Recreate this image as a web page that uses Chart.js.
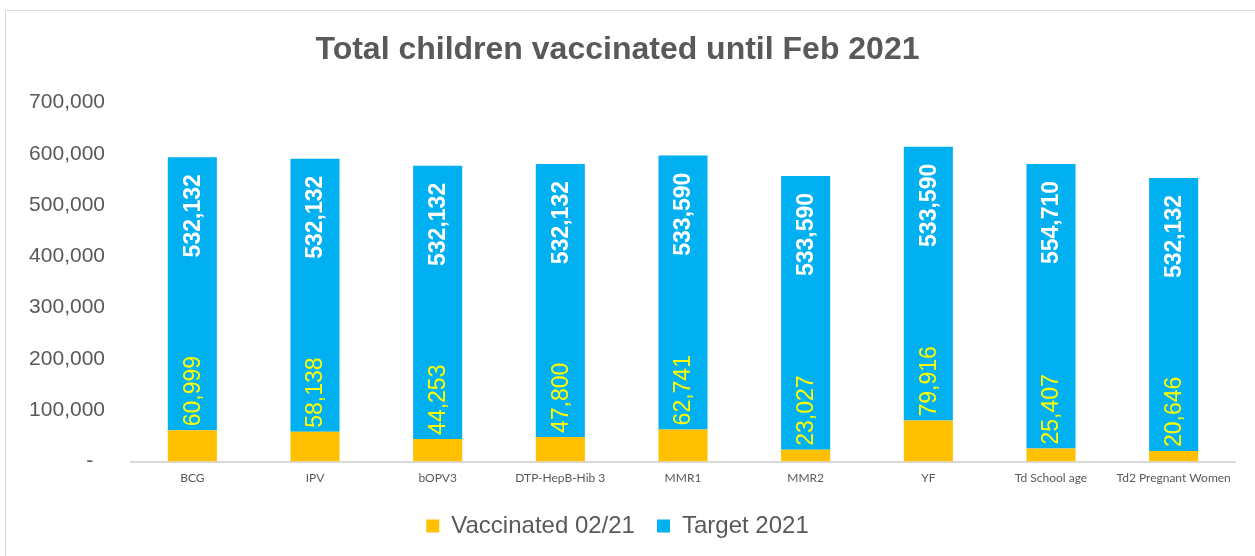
<!DOCTYPE html>
<html>
<head>
<meta charset="utf-8">
<script src="https://cdn.jsdelivr.net/npm/chart.js@4"></script>
<style>
    body { margin: 0; background: #fff; }
    .frame {
        position: absolute;
        left: 5px; top: 10px;
        width: 1260px; height: 560px;
        border: 1px solid #d9d9d9;
    }
    .wrap { position: absolute; left: 0; top: 0; width: 1255px; height: 556px; }
</style>
</head>
<body>
<div class="frame"></div>
<div class="wrap"><canvas id="vaccChart"></canvas></div>
<script>
// data
const categories = ['BCG', 'IPV', 'bOPV3', 'DTP-HepB-Hib 3', 'MMR1', 'MMR2', 'YF', 'Td School age', 'Td2 Pregnant Women'];
const vaccinated = [60999, 58138, 44253, 47800, 62741, 23027, 79916, 25407, 20646];
const target = [532132, 532132, 532132, 532132, 533590, 533590, 533590, 554710, 532132];
const yTicks = [0, 100000, 200000, 300000, 400000, 500000, 600000, 700000];

const fmt = v => v.toLocaleString('en-US');

// value labels, rotated like the Excel original
const barLabels = {
    id: 'barLabels',
    afterDatasetsDraw(chart) {
        const ctx = chart.ctx;
        const vBars = chart.getDatasetMeta(0).data;
        const tBars = chart.getDatasetMeta(1).data;
        ctx.save();
        ctx.textBaseline = 'middle';

        // Vaccinated: starts just above the orange bar
        ctx.font = '23px "Liberation Sans", Arial, sans-serif';
        ctx.fillStyle = '#FFFF00';
        ctx.textAlign = 'left';
        vBars.forEach((bar, i) => {
            ctx.save();
            ctx.translate(bar.x, bar.y - 4);
            ctx.rotate(-Math.PI / 2);
            ctx.fillText(fmt(vaccinated[i]), 0, 1);
            ctx.restore();
        });

        // Target: inside end of the blue bar
        ctx.font = 'bold 23px "Liberation Sans", Arial, sans-serif';
        ctx.fillStyle = '#FFFFFF';
        ctx.textAlign = 'right';
        tBars.forEach((bar, i) => {
            ctx.save();
            ctx.translate(bar.x, bar.y + 17);
            ctx.rotate(-Math.PI / 2);
            ctx.fillText(fmt(target[i]), 0, 1);
            ctx.restore();
        });
        ctx.restore();
    }
};

new Chart(document.getElementById('vaccChart'), {
    type: 'bar',
    data: {
        labels: categories,
        datasets: [{
            label: 'Vaccinated 02/21',
            data: vaccinated,
            backgroundColor: '#FFC000',
            categoryPercentage: 1,
            barPercentage: 0.4
        }, {
            label: 'Target 2021',
            data: target,
            backgroundColor: '#00B0F0',
            categoryPercentage: 1,
            barPercentage: 0.4
        }]
    },
    options: {
        responsive: true,
        maintainAspectRatio: false,
        animation: false,
        layout: { padding: { top: 20, right: 20, bottom: 8, left: 0 } },
        plugins: {
            title: {
                display: true,
                text: 'Total children vaccinated until Feb 2021',
                color: '#595959',
                font: { family: '"Liberation Sans", Arial, sans-serif', size: 32, weight: 'bold' },
                padding: { top: 11, bottom: 33 }
            },
            legend: {
                position: 'bottom',
                labels: {
                    color: '#595959',
                    font: { family: '"Liberation Sans", Arial, sans-serif', size: 24 },
                    boxWidth: 13,
                    boxHeight: 13,
                    padding: 22
                }
            },
            tooltip: { enabled: false }
        },
        scales: {
            x: {
                stacked: true,
                grid: { display: false },
                border: { display: true, color: '#D9D9D9', width: 2 },
                afterFit(axis) { axis.height += 6; },
                ticks: {
                    color: '#595959',
                    font: { family: 'Lato, "Open Sans", sans-serif', size: 12 },
                    maxRotation: 0,
                    autoSkip: false,
                    padding: 1
                }
            },
            y: {
                stacked: true,
                min: 0,
                max: 700000,
                grid: { display: false },
                border: { display: false },
                afterBuildTicks(axis) {
                    axis.ticks = yTicks.map(v => ({ value: v }));
                },
                afterFit(axis) { axis.width = 131; },
                ticks: {
                    color: '#595959',
                    font: { family: '"Liberation Sans", Arial, sans-serif', size: 21 },
                    padding: 18,
                    callback: v => v === 0 ? '-  ' : fmt(v)
                }
            }
        }
    },
    plugins: [barLabels]
});
</script>
</body>
</html>
